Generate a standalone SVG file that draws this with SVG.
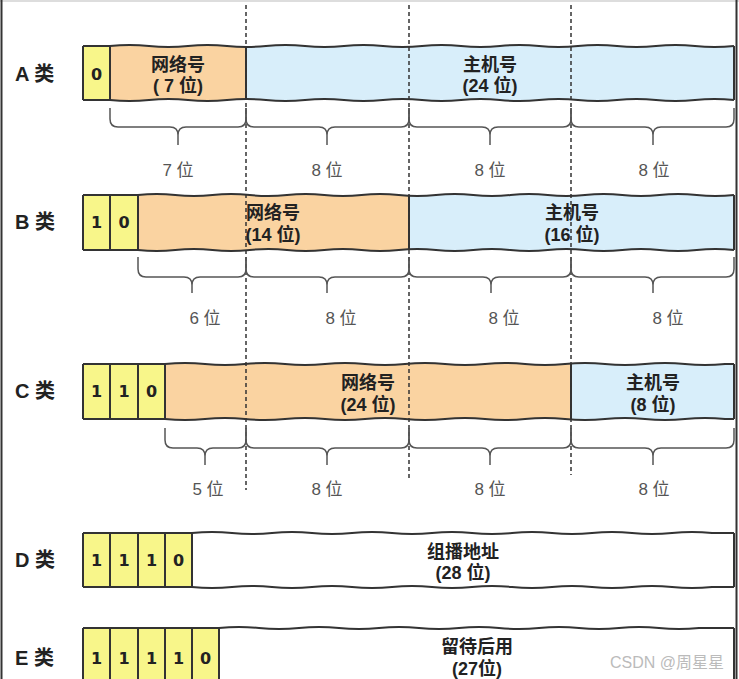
<svg xmlns="http://www.w3.org/2000/svg" width="739" height="679" viewBox="0 0 739 679">
<style>
.bx{stroke:#333;stroke-width:2;fill:none;stroke-linejoin:round}
.y{fill:#F8F68A}
.o{fill:#FAD3A1}
.b{fill:#D8EEFA}
.w{fill:#FFFFFF}
.cls{font-family:"Liberation Sans","Noto Sans CJK SC",sans-serif;font-weight:bold;font-size:20px;fill:#222}
.bit{font-family:"DejaVu Sans","Liberation Sans",sans-serif;font-weight:bold;font-size:16px;fill:#222;text-anchor:middle}
.in{font-family:"Liberation Sans","Noto Sans CJK SC",sans-serif;font-weight:bold;font-size:18px;fill:#222;text-anchor:middle}
.lb{font-family:"Liberation Sans","Noto Sans CJK SC",sans-serif;font-size:17px;fill:#555;text-anchor:middle}
.br{stroke:#555;stroke-width:1.5;fill:none}
.dl{stroke:#333;stroke-width:1.5;stroke-dasharray:4 3;fill:none}
.wm{font-family:"Liberation Sans","Noto Sans CJK SC",sans-serif;font-size:16px;fill:#BBBBBB}
</style>
<rect x="0" y="0" width="739" height="679" fill="#FFFFFF"/>
<line x1="0" y1="1" x2="739" y2="1" stroke="#DDDDDD" stroke-width="2"/>
<line x1="1.5" y1="0" x2="1.5" y2="679" stroke="#333" stroke-width="2"/>
<line x1="736.5" y1="0" x2="736.5" y2="679" stroke="#333" stroke-width="2"/>

<g id="rowA">
<rect class="y" x="83" y="46" width="27" height="54"/>
<rect class="o" x="110" y="46" width="136" height="54"/>
<rect class="b" x="246" y="46" width="488" height="54"/>
<path class="bx" d="M83,46 H110 M83,100 H110 M83,46 V100 M110,46 V100 M246,46 V100 M734,46 V100"/>
<path class="bx" d="M110,46 q19.5,-2 39,0 t39,0 t39,0 t39,0 t39,0 t39,0 t39,0 t39,0 t39,0 t39,0 t39,0 t39,0 t39,0 t39,0 t39,0 t39,0"/>
<path class="bx" d="M110,100 q19.5,2 39,0 t39,0 t39,0 t39,0 t39,0 t39,0 t39,0 t39,0 t39,0 t39,0 t39,0 t39,0 t39,0 t39,0 t39,0 t39,0"/>
<text class="cls" x="15" y="81">A 类</text>
<text class="bit" x="96.5" y="80">0</text>
<text class="in" x="178" y="71">网络号</text>
<text class="in" x="178" y="92">( 7 位)</text>
<text class="in" x="490" y="71">主机号</text>
<text class="in" x="490" y="92">(24 位)</text>
</g>

<g id="rowB">
<rect class="y" x="83" y="195" width="55" height="55"/>
<rect class="o" x="138" y="195" width="271" height="55"/>
<rect class="b" x="409" y="195" width="325" height="55"/>
<path class="bx" d="M83,195 H138 M83,250 H138 M83,195 V250 M110,195 V250 M138,195 V250 M409,195 V250 M734,195 V250"/>
<path class="bx" d="M138,195 q18.6,-2 37.25,0 t37.25,0 t37.25,0 t37.25,0 t37.25,0 t37.25,0 t37.25,0 t37.25,0 t37.25,0 t37.25,0 t37.25,0 t37.25,0 t37.25,0 t37.25,0 t37.25,0 t37.25,0"/>
<path class="bx" d="M138,250 q18.6,2 37.25,0 t37.25,0 t37.25,0 t37.25,0 t37.25,0 t37.25,0 t37.25,0 t37.25,0 t37.25,0 t37.25,0 t37.25,0 t37.25,0 t37.25,0 t37.25,0 t37.25,0 t37.25,0"/>
<text class="cls" x="15" y="229">B 类</text>
<text class="bit" x="96.5" y="228">1</text>
<text class="bit" x="124" y="228">0</text>
<text class="in" x="273" y="219">网络号</text>
<text class="in" x="273" y="241">(14 位)</text>
<text class="in" x="572" y="219">主机号</text>
<text class="in" x="572" y="241">(16 位)</text>
</g>

<g id="rowC">
<rect class="y" x="83" y="364" width="82" height="55"/>
<rect class="o" x="165" y="364" width="406" height="55"/>
<rect class="b" x="571" y="364" width="163" height="55"/>
<path class="bx" d="M83,364 H165 M83,419 H165 M83,364 V419 M110,364 V419 M138,364 V419 M165,364 V419 M571,364 V419 M734,364 V419"/>
<path class="bx" d="M165,364 q20,-2 40,0 t40,0 t40,0 t40,0 t40,0 t40,0 t40,0 t40,0 t40,0 t40,0 t40,0 t40,0 t40,0 t40,0 L734,364"/>
<path class="bx" d="M165,419 q20,2 40,0 t40,0 t40,0 t40,0 t40,0 t40,0 t40,0 t40,0 t40,0 t40,0 t40,0 t40,0 t40,0 t40,0 L734,419"/>
<text class="cls" x="15" y="398">C 类</text>
<text class="bit" x="96.5" y="397">1</text>
<text class="bit" x="124" y="397">1</text>
<text class="bit" x="151.5" y="397">0</text>
<text class="in" x="368" y="389">网络号</text>
<text class="in" x="368" y="411">(24 位)</text>
<text class="in" x="653" y="389">主机号</text>
<text class="in" x="653" y="411">(8 位)</text>
</g>

<g id="rowD">
<rect class="y" x="83" y="533" width="109" height="54"/>
<rect class="w" x="192" y="533" width="542" height="54"/>
<path class="bx" d="M83,533 H192 M83,587 H192 M83,533 V587 M110,533 V587 M138,533 V587 M165,533 V587 M192,533 V587 M734,533 V587"/>
<path class="bx" d="M192,533 q20,-2 40,0 t40,0 t40,0 t40,0 t40,0 t40,0 t40,0 t40,0 t40,0 t40,0 t40,0 t40,0 t40,0 L734,533"/>
<path class="bx" d="M192,587 q20,2 40,0 t40,0 t40,0 t40,0 t40,0 t40,0 t40,0 t40,0 t40,0 t40,0 t40,0 t40,0 t40,0 L734,587"/>
<text class="cls" x="15" y="567">D 类</text>
<text class="bit" x="96.5" y="566">1</text>
<text class="bit" x="124" y="566">1</text>
<text class="bit" x="151.5" y="566">1</text>
<text class="bit" x="178.5" y="566">0</text>
<text class="in" x="463" y="558">组播地址</text>
<text class="in" x="463" y="579">(28 位)</text>
</g>

<g id="rowE">
<rect class="y" x="83" y="628" width="136" height="60"/>
<rect class="w" x="219" y="628" width="515" height="60"/>
<path class="bx" d="M83,628 H219 M83,628 V690 M110,628 V690 M138,628 V690 M165,628 V690 M192,628 V690 M219,628 V690 M734,628 V690"/>
<path class="bx" d="M219,628 q20,-2 40,0 t40,0 t40,0 t40,0 t40,0 t40,0 t40,0 t40,0 t40,0 t40,0 t40,0 t40,0 L734,628"/>
<text class="cls" x="15" y="665">E 类</text>
<text class="bit" x="96.5" y="664">1</text>
<text class="bit" x="124" y="664">1</text>
<text class="bit" x="151.5" y="664">1</text>
<text class="bit" x="178.5" y="664">1</text>
<text class="bit" x="205.5" y="664">0</text>
<text class="in" x="477" y="653">留待后用</text>
<text class="in" x="477" y="675">(27位)</text>
</g>

<g id="connectors">
<line class="dl" x1="246" y1="5" x2="246" y2="490"/>
<line class="dl" x1="409" y1="5" x2="409" y2="481"/>
<line class="dl" x1="571" y1="5" x2="571" y2="475"/>
<path class="br" d="M110,108 V119 Q110,127 118,127 H170 Q178,127 178,135 V145 M178,135 Q178,127 186,127 H238 Q246,127 246,119 V108"/>
<path class="br" d="M246,108 V119 Q246,127 254,127 H319 Q327,127 327,135 V145 M327,135 Q327,127 335,127 H401 Q409,127 409,119 V108"/>
<path class="br" d="M409,108 V119 Q409,127 417,127 H482 Q490,127 490,135 V145 M490,135 Q490,127 498,127 H563 Q571,127 571,119 V108"/>
<path class="br" d="M571,108 V119 Q571,127 579,127 H645 Q653,127 653,135 V145 M653,135 Q653,127 661,127 H726 Q734,127 734,119 V108"/>
<path class="br" d="M138,257 V269 Q138,277 146,277 H184 Q192,277 192,285 V293 M192,285 Q192,277 200,277 H238 Q246,277 246,269 V257"/>
<path class="br" d="M246,257 V269 Q246,277 254,277 H319 Q327,277 327,285 V293 M327,285 Q327,277 335,277 H401 Q409,277 409,269 V257"/>
<path class="br" d="M409,257 V269 Q409,277 417,277 H483 Q491,277 491,285 V293 M491,285 Q491,277 499,277 H563 Q571,277 571,269 V257"/>
<path class="br" d="M571,257 V269 Q571,277 579,277 H645 Q653,277 653,285 V293 M653,285 Q653,277 661,277 H726 Q734,277 734,269 V257"/>
<path class="br" d="M165,428 V440 Q165,448 173,448 H197 Q205,448 205,456 V465 M205,456 Q205,448 213,448 H238 Q246,448 246,440 V428"/>
<path class="br" d="M246,428 V440 Q246,448 254,448 H319 Q327,448 327,456 V465 M327,456 Q327,448 335,448 H401 Q409,448 409,440 V428"/>
<path class="br" d="M409,428 V440 Q409,448 417,448 H482 Q490,448 490,456 V465 M490,456 Q490,448 498,448 H563 Q571,448 571,440 V428"/>
<path class="br" d="M571,428 V440 Q571,448 579,448 H645 Q653,448 653,456 V465 M653,456 Q653,448 661,448 H726 Q734,448 734,440 V428"/>
</g>

<g id="labels">
<text class="lb" x="178" y="176">7 位</text>
<text class="lb" x="327" y="176">8 位</text>
<text class="lb" x="490" y="176">8 位</text>
<text class="lb" x="654" y="176">8 位</text>
<text class="lb" x="205" y="324">6 位</text>
<text class="lb" x="341" y="324">8 位</text>
<text class="lb" x="504" y="324">8 位</text>
<text class="lb" x="668" y="324">8 位</text>
<text class="lb" x="208" y="495">5 位</text>
<text class="lb" x="327" y="495">8 位</text>
<text class="lb" x="490" y="495">8 位</text>
<text class="lb" x="654" y="495">8 位</text>
</g>
<text class="wm" x="610" y="668">CSDN @周星星</text>
</svg>
